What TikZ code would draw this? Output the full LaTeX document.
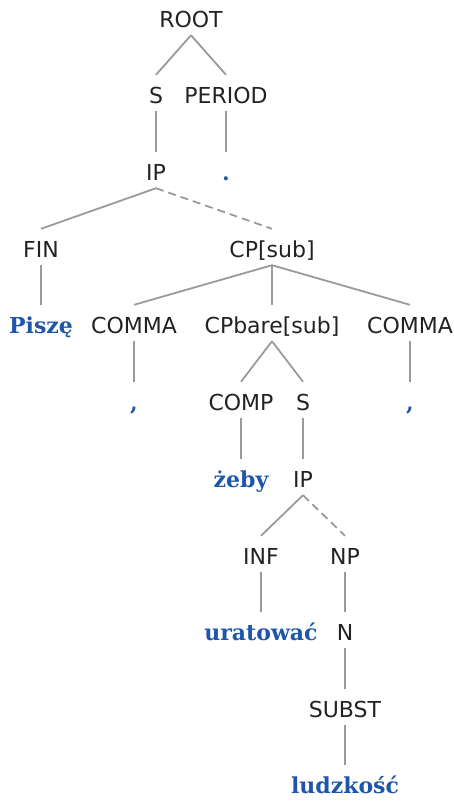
\documentclass[tikz,border=0pt]{standalone}
\usepackage{fontspec}
\setmainfont{DejaVu Sans}
\newfontfamily\wordfont{DejaVu Serif}
\definecolor{edgec}{HTML}{9A9A9A}
\definecolor{wordc}{HTML}{1F56A8}
\definecolor{labc}{HTML}{222222}
\begin{document}
\begin{tikzpicture}[x=1pt,y=-1pt,
  lab/.style={inner sep=0pt,text height=28pt,text depth=8pt,anchor=base,
    font=\fontsize{22}{24}\selectfont,text=labc},
  word/.style={lab,font=\fontsize{22}{24}\selectfont\wordfont\bfseries,text=wordc},
  edge/.style={draw=edgec,line width=1.8pt},
  dedge/.style={edge,dash pattern=on 8pt off 5pt}]
\useasboundingbox (0,0) rectangle (454,801);
\node[lab] (root) at (191,27) {ROOT};
\node[lab] (s) at (156,103) {S};
\node[lab] (period) at (226,103) {PERIOD};
\node[lab] (ip) at (156,180) {IP};
\node[word] (dot) at (226,180) {.};
\node[lab] (fin) at (41,257) {FIN};
\node[lab] (cp) at (272,257) {CP[sub]};
\node[word] (pisze) at (41,333) {Piszę};
\node[lab] (comma1) at (134,333) {COMMA};
\node[lab] (cpbare) at (272,333) {CPbare[sub]};
\node[lab] (comma2) at (410,333) {COMMA};
\node[word] (c1) at (134,410) {,};
\node[lab] (comp) at (241,410) {COMP};
\node[lab] (s2) at (303,410) {S};
\node[word] (c2) at (410,410) {,};
\node[word] (zeby) at (241,487) {żeby};
\node[lab] (ip2) at (303,487) {IP};
\node[lab] (inf) at (261,564) {INF};
\node[lab] (np) at (345,564) {NP};
\node[word] (uratowac) at (261,640) {uratować};
\node[lab] (n) at (345,640) {N};
\node[lab] (subst) at (345,717) {SUBST};
\node[word] (ludzkosc) at (345,793) {ludzkość};
\draw[edge] (root.south) -- (s.north);
\draw[edge] (root.south) -- (period.north);
\draw[edge] (s.south) -- (ip.north);
\draw[edge] (period.south) -- (dot.north);
\draw[edge] (ip.south) -- (fin.north);
\draw[dedge] (ip.south) -- (cp.north);
\draw[edge] (fin.south) -- (pisze.north);
\draw[edge] (cp.south) -- (comma1.north);
\draw[edge] (cp.south) -- (cpbare.north);
\draw[edge] (cp.south) -- (comma2.north);
\draw[edge] (comma1.south) -- (c1.north);
\draw[edge] (comma2.south) -- (c2.north);
\draw[edge] (cpbare.south) -- (comp.north);
\draw[edge] (cpbare.south) -- (s2.north);
\draw[edge] (comp.south) -- (zeby.north);
\draw[edge] (s2.south) -- (ip2.north);
\draw[edge] (ip2.south) -- (inf.north);
\draw[dedge] (ip2.south) -- (np.north);
\draw[edge] (inf.south) -- (uratowac.north);
\draw[edge] (np.south) -- (n.north);
\draw[edge] (n.south) -- (subst.north);
\draw[edge] (subst.south) -- (ludzkosc.north);
\end{tikzpicture}
\end{document}
